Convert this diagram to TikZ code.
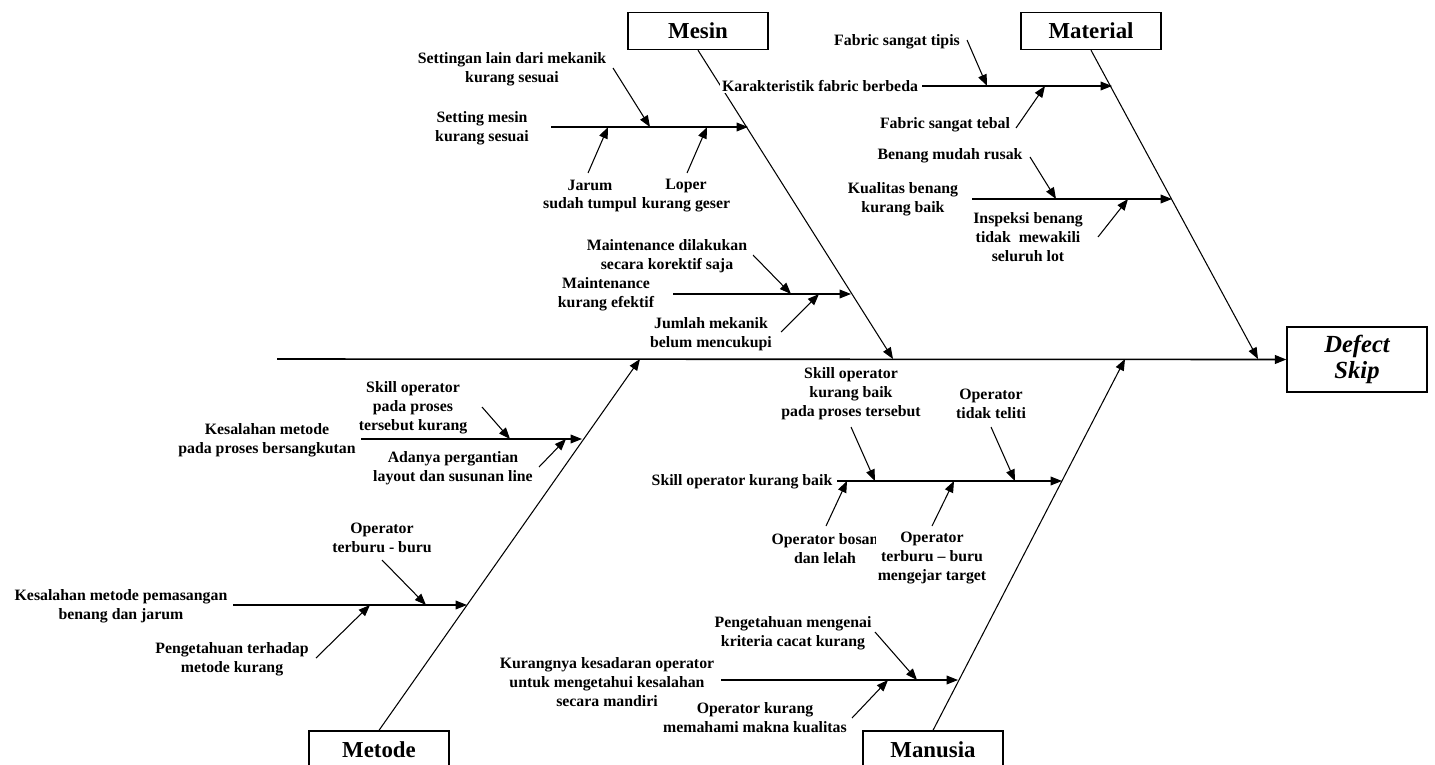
\documentclass[tikz,border=0pt]{standalone}
\usepackage{fontspec}
\setmainfont{Liberation Serif}
\usetikzlibrary{arrows.meta, positioning, calc}

\begin{document}
\begin{tikzpicture}[x=0.02cm, y=-0.02cm, line width=0.6pt,
    headbox/.style={draw, line width=0.8pt, minimum width=2.8cm, minimum height=0.74cm,
        inner sep=0pt, font=\fontsize{13}{15}\selectfont\bfseries},
    cause/.style={align=center, inner sep=1pt, font=\fontsize{9}{10.8}\selectfont\bfseries},
    tip/.style={-{Triangle[length=6.5pt, width=5pt]}}]
    \useasboundingbox (0,0) rectangle (1435,764);

    % Head and spine
    \node[headbox, minimum height=1.3cm, align=center,
        font=\fontsize{14}{15.3}\selectfont\bfseries\itshape] (defect) at (1357,359.5) {Defect\\Skip};
    \coordinate (spine) at (277,359);
    \draw[tip, line width=0.9pt] (spine) -- (defect.west);

    % Category boxes
    \node[headbox] (mesin) at (698,31) {Mesin};
    \node[headbox] (material) at (1091,31) {Material};
    \node[headbox] (metode) at (379,749.5) {Metode};
    \node[headbox] (manusia) at (933,749.5) {Manusia};

    % Main bones
    \coordinate (mesinEnd) at (893,359);
    \coordinate (materialEnd) at (1258,359);
    \coordinate (metodeEnd) at (640,359);
    \coordinate (manusiaEnd) at (1125,359);
    \draw[tip] (mesin.south) -- (mesinEnd);
    \draw[tip] (material.south) -- (materialEnd);
    \draw[tip] (metode.north) -- (metodeEnd);
    \draw[tip] (manusia.north) -- (manusiaEnd);

    % Mesin
    \node[cause] (setmesin) at (482,128) {Setting mesin\\kurang sesuai};
    \coordinate (setmesinA) at (551,127);
    \coordinate (setmesinB) at (748,127);
    \draw[tip] (setmesinA) -- (setmesinB);
    \node[cause] (settingan) at (512,69) {Settingan lain dari mekanik\\kurang sesuai};
    \node[cause] (jarum) at (590,196) {Jarum\\sudah tumpul};
    \node[cause] (loper) at (686,196) {Loper\\kurang geser};
    \coordinate (settinganT) at (613,68);  \coordinate (settinganH) at (650,127);
    \coordinate (jarumT) at (588,173);     \coordinate (jarumH) at (608,127);
    \coordinate (loperT) at (687,173);     \coordinate (loperH) at (707,127);

    \node[cause] (maint) at (606,294.5) {Maintenance\\kurang efektif};
    \coordinate (maintA) at (673,294);
    \coordinate (maintB) at (851,294);
    \draw[tip] (maintA) -- (maintB);
    \node[cause] (korektif) at (667,256.5) {Maintenance dilakukan\\secara korektif saja};
    \node[cause] (mekanik) at (711,334) {Jumlah mekanik\\belum mencukupi};
    \coordinate (korektifT) at (753,255);  \coordinate (korektifH) at (791,294);
    \coordinate (mekanikT) at (781,332);   \coordinate (mekanikH) at (819,294);

    % Material
    \node[cause, fill=white] (fabric) at (820,86) {Karakteristik fabric berbeda};
    \coordinate (fabricA) at (922,86);
    \coordinate (fabricB) at (1112,86);
    \draw[tip] (fabricA) -- (fabricB);
    \node[cause] (tipis) at (897,42) {Fabric sangat tipis};
    \node[cause] (tebal) at (945,125) {Fabric sangat tebal};
    \coordinate (tipisT) at (967,40);      \coordinate (tipisH) at (987,86);
    \coordinate (tebalT) at (1016,128);    \coordinate (tebalH) at (1045,86);

    \node[cause] (benang) at (903,199) {Kualitas benang\\kurang baik};
    \coordinate (benangA) at (972,199);
    \coordinate (benangB) at (1172,199);
    \draw[tip] (benangA) -- (benangB);
    \node[cause] (rusak) at (950,156) {Benang mudah rusak};
    \node[cause] (inspeksi) at (1028,237) {Inspeksi benang\\tidak\ \ mewakili\\seluruh lot};
    \coordinate (rusakT) at (1030,157);    \coordinate (rusakH) at (1056,199);
    \coordinate (inspeksiT) at (1098,237); \coordinate (inspeksiH) at (1128,199);

    % Metode
    \node[cause] (proses) at (267,440.5) {Kesalahan metode\\pada proses bersangkutan};
    \coordinate (prosesA) at (361,439);
    \coordinate (prosesB) at (582,439);
    \draw[tip] (prosesA) -- (prosesB);
    \node[cause] (skillop) at (413,407.5) {Skill operator\\pada proses\\tersebut kurang};
    \node[cause] (layout) at (453,468.5) {Adanya pergantian\\layout dan susunan line};
    \coordinate (skillopT) at (482,407);   \coordinate (skillopH) at (510,439);
    \coordinate (layoutT) at (539,467);    \coordinate (layoutH) at (566,439);

    \node[cause] (pasang) at (121,606.5) {Kesalahan metode pemasangan\\benang dan jarum};
    \coordinate (pasangA) at (233,605);
    \coordinate (pasangB) at (467,605);
    \draw[tip] (pasangA) -- (pasangB);
    \node[cause] (buru) at (382,537.5) {Operator\\terburu - buru};
    \node[cause] (tahu) at (232,659.5) {Pengetahuan terhadap\\metode kurang};
    \coordinate (buruT) at (382,560);      \coordinate (buruH) at (426,605);
    \coordinate (tahuT) at (316,658);      \coordinate (tahuH) at (370,605);

    % Manusia
    \node[cause] (skill) at (742,482) {Skill operator kurang baik};
    \coordinate (skillA) at (837,481);
    \coordinate (skillB) at (1062,481);
    \draw[tip] (skillA) -- (skillB);
    \node[cause] (skillpr) at (851,394) {Skill operator\\kurang baik\\pada proses tersebut};
    \node[cause] (teliti) at (991,403.5) {Operator\\tidak teliti};
    \node[cause] (bosan) at (825,548.5) {Operator bosan\\dan lelah};
    \node[cause, fill=white] (target) at (932,558) {Operator\\terburu -- buru\\mengejar target};
    \coordinate (skillprT) at (851,427);   \coordinate (skillprH) at (875,481);
    \coordinate (telitiT) at (991,427);    \coordinate (telitiH) at (1015,481);
    \coordinate (bosanT) at (826,526);     \coordinate (bosanH) at (847,481);
    \coordinate (targetT) at (932,526);    \coordinate (targetH) at (954,481);

    \node[cause] (sadar) at (607,682) {Kurangnya kesadaran operator\\untuk mengetahui kesalahan\\secara mandiri};
    \coordinate (sadarA) at (721,680);
    \coordinate (sadarB) at (958,680);
    \draw[tip] (sadarA) -- (sadarB);
    \node[cause] (kriteria) at (793,633) {Pengetahuan mengenai\\kriteria cacat kurang};
    \node[cause] (makna) at (755,718) {Operator kurang\\memahami makna kualitas};
    \coordinate (kriteriaT) at (875,632);  \coordinate (kriteriaH) at (917,680);
    \coordinate (maknaT) at (852,718);     \coordinate (maknaH) at (888,680);

    % Sub-cause arrows
    \foreach \c in {settingan, jarum, loper, korektif, mekanik, tipis, tebal, rusak, inspeksi,
        skillop, layout, buru, tahu, skillpr, teliti, bosan, target, kriteria, makna}
        \draw[tip] (\c T) -- (\c H);
\end{tikzpicture}
\end{document}
